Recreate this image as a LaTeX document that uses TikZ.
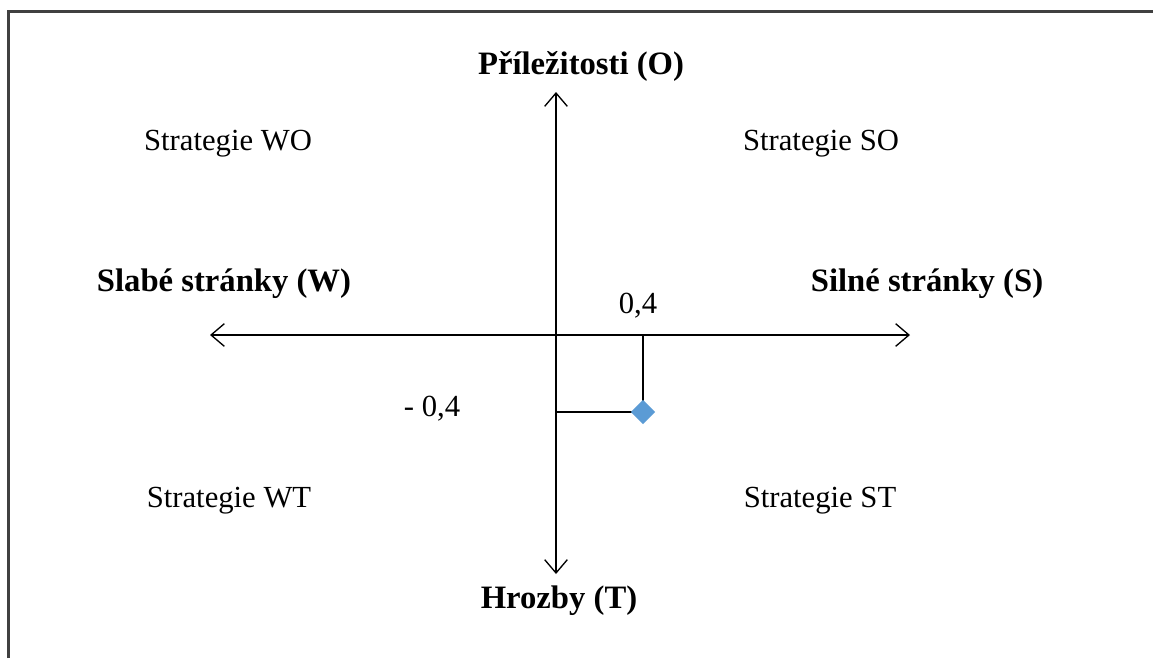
\documentclass[tikz,border=0pt]{standalone}
\usepackage{fontspec}
\setmainfont{Liberation Serif}
\usetikzlibrary{arrows.meta, positioning, shapes.geometric, calc}
\definecolor{pointblue}{HTML}{5B9BD5}
\definecolor{framegray}{HTML}{404040}

\begin{document}
\begin{tikzpicture}[
		x=0.75pt, y=-0.75pt,
		font=\fontsize{23}{27}\selectfont,
		axis/.style={
			draw,
			line width=1pt,
			-{Straight Barb[length=10pt,width=17pt,line width=1pt]}
		},
		axislabel/.style={
			font=\fontsize{24.5}{28}\selectfont\bfseries
		},
		quadrant/.style={},
		guide/.style={draw, line width=1pt},
		marker/.style={
			diamond,
			fill=pointblue,
			inner sep=0pt,
			minimum width=18.5pt,
			minimum height=18.5pt
		}
		]
		
		\useasboundingbox (0,0) rectangle (1153,658);
		
		% ---- Frame ----
		\draw[framegray, line width=1.6pt] (8.5,658) -- (8.5,11.5) -- (1153,11.5);
		
		% ---- Axes ----
		\coordinate (origin) at (556,335);
		\coordinate (top) at (556,92);
		\coordinate (bottom) at (556,574);
		\coordinate (left) at (210,335);
		\coordinate (right) at (910,335);
		
		\draw[axis] (origin) -- (top);
		\draw[axis] (origin) -- (bottom);
		\draw[axis] (origin) -- (left);
		\draw[axis] (origin) -- (right);
		
		% ---- Axis labels ----
		\node[axislabel] (opp) at (581,66) {Příležitosti (O)};
		\node[axislabel] (thr) at (559,601) {Hrozby (T)};
		\node[axislabel] (weak) at (224,284) {Slabé stránky (W)};
		\node[axislabel] (strong) at (927,284) {Silné stránky (S)};
		
		% ---- Quadrants ----
		\node[quadrant] (wo) at (228,144) {Strategie WO};
		\node[quadrant] (so) at (821,144) {Strategie SO};
		\node[quadrant] (wt) at (229,501) {Strategie WT};
		\node[quadrant] (st) at (820,501) {Strategie ST};
		
		% ---- Result point ----
		\coordinate (xmark) at (643,335);
		\coordinate (ymark) at (556,412);
		\coordinate (pt) at (643,412);
		
		\draw[guide] (xmark) -- (pt);
		\draw[guide] (ymark) -- (pt);
		\node[marker] (point) at (pt) {};
		
		\node (xval) at (638,306) {0,4};
		\node (yval) at (432,409) {- 0,4};
		
	\end{tikzpicture}
\end{document}
